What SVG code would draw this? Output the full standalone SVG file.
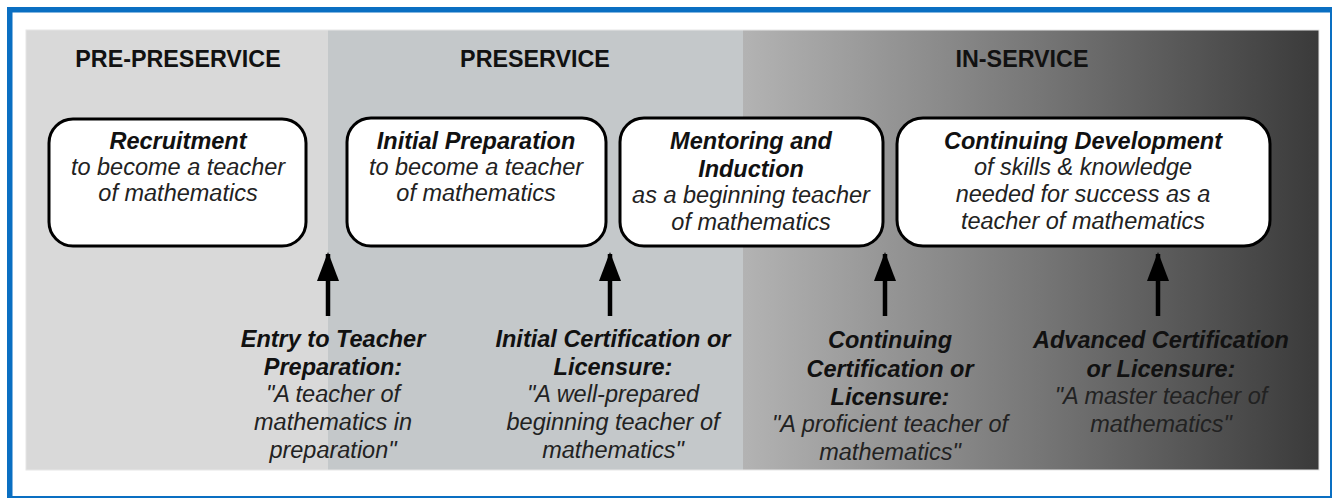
<svg xmlns="http://www.w3.org/2000/svg" width="1332" height="498" viewBox="0 0 1332 498">
<defs>
<linearGradient id="inGrad" x1="0" y1="0" x2="1" y2="0">
<stop offset="0" stop-color="#b3b3b3"/>
<stop offset="0.5" stop-color="#787878"/>
<stop offset="1" stop-color="#3a3a3a"/>
</linearGradient>
<marker id="head" markerWidth="30" markerHeight="22" refX="27" refY="11" orient="auto" markerUnits="userSpaceOnUse" viewBox="0 0 30 22">
<path d="M0 0 L29 11 L0 22 Z" fill="#000"/>
</marker>
</defs>
<style>
.hdr{font-family:"Liberation Sans",Arial,sans-serif;font-weight:bold;font-size:23.3px;fill:#111;text-anchor:middle}
.box{fill:#fff;stroke:#000;stroke-width:3}
.t{font-family:"Liberation Sans",Arial,sans-serif;font-style:italic;font-weight:bold;font-size:23.5px;fill:#111;text-anchor:middle}
.s{font-family:"Liberation Sans",Arial,sans-serif;font-style:italic;font-size:23.5px;fill:#222;text-anchor:middle}
.arr{stroke:#000;stroke-width:4.5;fill:none}
</style>
<rect x="0" y="0" width="1332" height="498" fill="#fff"/>
<rect x="7" y="7" width="1325" height="5.5" fill="#0a6fc2"/>
<rect x="7" y="7" width="5.5" height="491" fill="#0a6fc2"/>
<rect x="1330" y="7" width="2" height="491" fill="#0a6fc2"/>
<rect x="7" y="496" width="1325" height="2" fill="#0a6fc2"/>
<g id="bands">
<rect x="26" y="30" width="302" height="440" fill="#d9d9d9"/>
<rect x="328" y="30" width="415" height="440" fill="#c4c8ca"/>
<rect x="743" y="30" width="576" height="440" fill="url(#inGrad)"/>
<rect x="26" y="30" width="1293" height="440" fill="none" stroke="#e6e6e6" stroke-width="1"/>
</g>
<text class="hdr" x="178" y="67">PRE-PRESERVICE</text>
<text class="hdr" x="535" y="67">PRESERVICE</text>
<text class="hdr" x="1022" y="67">IN-SERVICE</text>
<g id="recruitment">
<rect class="box" x="49" y="119" width="257" height="127" rx="24"/>
<text class="t" x="178" y="149">Recruitment</text>
<text class="s" x="178" y="175">to become a teacher</text>
<text class="s" x="178" y="201">of mathematics</text>
</g>
<g id="initial-preparation">
<rect class="box" x="347" y="118" width="259" height="128" rx="24"/>
<text class="t" x="476" y="149">Initial Preparation</text>
<text class="s" x="476" y="175">to become a teacher</text>
<text class="s" x="476" y="201">of mathematics</text>
</g>
<g id="mentoring">
<rect class="box" x="620" y="118" width="263" height="128" rx="24"/>
<text class="t" x="751" y="149">Mentoring and</text>
<text class="t" x="751" y="177">Induction</text>
<text class="s" x="751" y="203">as a beginning teacher</text>
<text class="s" x="751" y="230">of mathematics</text>
</g>
<g id="continuing-development">
<rect class="box" x="897" y="118" width="373" height="128" rx="26"/>
<text class="t" x="1083" y="149">Continuing Development</text>
<text class="s" x="1083" y="175">of skills &amp; knowledge</text>
<text class="s" x="1083" y="202">needed for success as a</text>
<text class="s" x="1083" y="229">teacher of mathematics</text>
</g>
<g id="connectors">
<line class="arr" x1="328" y1="316" x2="328" y2="254" marker-end="url(#head)"/>
<line class="arr" x1="610" y1="316" x2="610" y2="254" marker-end="url(#head)"/>
<line class="arr" x1="885" y1="316" x2="885" y2="254" marker-end="url(#head)"/>
<line class="arr" x1="1158" y1="316" x2="1158" y2="254" marker-end="url(#head)"/>
</g>
<g id="entry-label">
<text class="t" x="333" y="347">Entry to Teacher</text>
<text class="t" x="333" y="375">Preparation:</text>
<text class="s" x="333" y="402">"A teacher of</text>
<text class="s" x="333" y="430">mathematics in</text>
<text class="s" x="333" y="458">preparation"</text>
</g>
<g id="initial-cert-label">
<text class="t" x="613" y="347">Initial Certification or</text>
<text class="t" x="613" y="375">Licensure:</text>
<text class="s" x="613" y="402">"A well-prepared</text>
<text class="s" x="613" y="430">beginning teacher of</text>
<text class="s" x="613" y="458">mathematics"</text>
</g>
<g id="continuing-cert-label">
<text class="t" x="890" y="348">Continuing</text>
<text class="t" x="890" y="377">Certification or</text>
<text class="t" x="890" y="405">Licensure:</text>
<text class="s" x="890" y="432">"A proficient teacher of</text>
<text class="s" x="890" y="460">mathematics"</text>
</g>
<g id="advanced-cert-label">
<text class="t" x="1161" y="348">Advanced Certification</text>
<text class="t" x="1161" y="377">or Licensure:</text>
<text class="s" x="1161" y="404">"A master teacher of</text>
<text class="s" x="1161" y="432">mathematics"</text>
</g>
</svg>
